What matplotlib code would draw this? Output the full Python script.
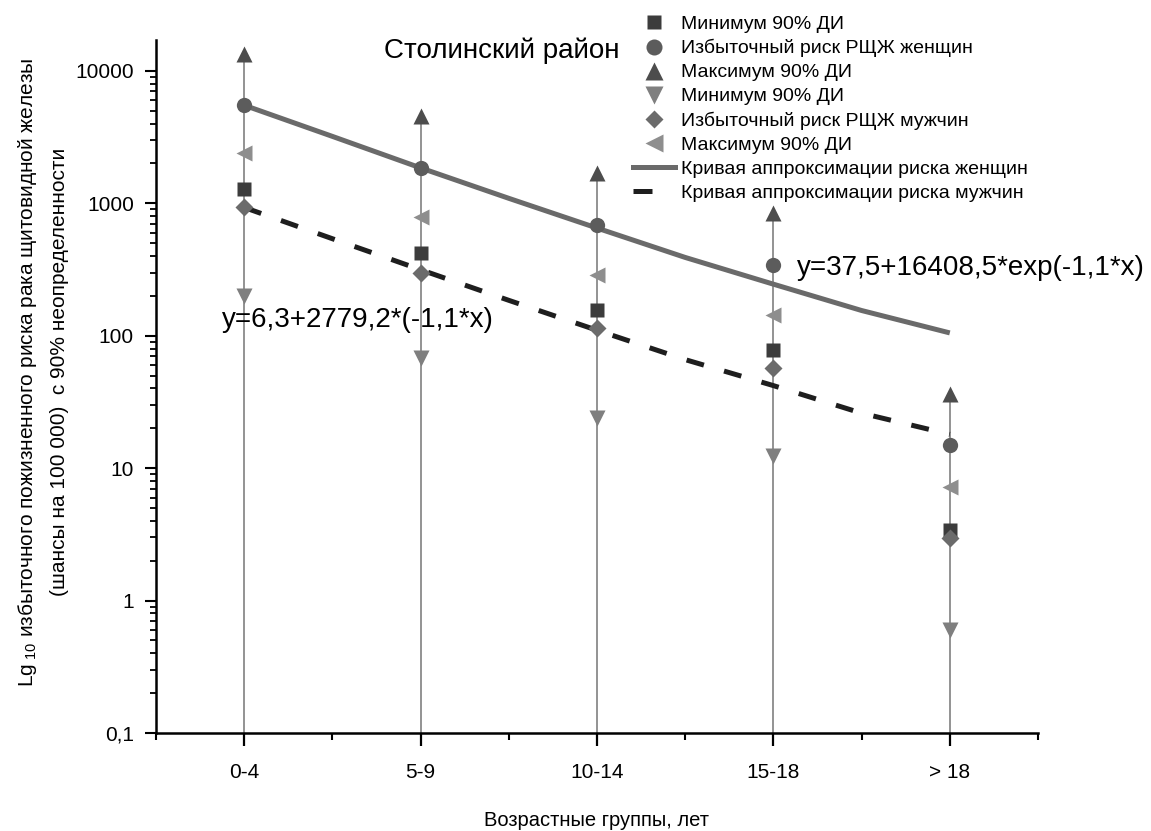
import matplotlib
matplotlib.use("Agg")
import matplotlib.pyplot as plt
from matplotlib.lines import Line2D
from matplotlib.ticker import FixedLocator, FixedFormatter, NullFormatter

plt.rcParams['font.family'] = ['Liberation Sans', 'DejaVu Sans']
plt.rcParams['mathtext.fontset'] = 'custom'
plt.rcParams['mathtext.rm'] = 'Liberation Sans'
plt.rcParams['mathtext.it'] = 'Liberation Sans'

# ---------------- data ----------------
categories = ['0-4', '5-9', '10-14', '15-18', '> 18']
f_min = [1280, 420, 157, 78, 3.4]
f_risk = [5500, 1850, 690, 340, 15]
f_max = [13500, 4600, 1700, 850, 36]
m_min = [200, 68, 24, 12.4, 0.6]
m_risk = [930, 300, 114, 57, 2.95]
m_max = [2400, 790, 288, 144, 7.2]

curve_x = [1, 1.5, 2, 2.5, 3, 3.5, 4, 4.5, 5]
f_curve = [5500, 3200, 1850, 1090, 650, 390, 245, 155, 105]
m_curve = [930, 540, 315, 185, 110, 66, 42, 26, 18]

ytick_vals = [0.1, 1, 10, 100, 1000, 10000]
ytick_labels = ['0,1', '1', '10', '100', '1000', '10000']

title = 'Столинский район'
eq_f = 'y=37,5+16408,5*exp(-1,1*x)'
eq_m = 'y=6,3+2779,2*(-1,1*x)'
xlabel = 'Возрастные группы, лет'
ylabel1 = r'$\mathrm{Lg}_{\ 10}$ избыточного пожизненного риска рака щитовидной железы'
ylabel2 = '(шансы на 100 000)  с 90% неопределенности'
legend_labels = ['Минимум 90% ДИ', 'Избыточный риск РЩЖ женщин', 'Максимум 90% ДИ',
                 'Минимум 90% ДИ', 'Избыточный риск РЩЖ мужчин', 'Максимум 90% ДИ',
                 'Кривая аппроксимации риска женщин', 'Кривая аппроксимации риска мужчин']

# ---------------- figure ----------------
W, H = 1151, 831
fig = plt.figure(figsize=(W / 100, H / 100), dpi=100)
ax = fig.add_axes([156 / W, 1 - 733 / H, (1038 - 156) / W, (733 - 40) / H])

x = list(range(1, len(categories) + 1))
ax.set_yscale('log')
ymin, ymax = 0.1, 17100
ax.set_ylim(ymin, ymax)
ax.set_xlim(0.5, len(categories) + 0.5)

ax.vlines(x, ymin, f_max, color='#8a8a8a', lw=1.3, zorder=1)

ax.plot(curve_x, f_curve, color='#6a6a6a', lw=3.6, zorder=2, solid_capstyle='butt')
ax.plot(curve_x, m_curve, color='#1e1e1e', lw=3.6, zorder=2, dashes=(3.6, 4.2))

mstyles = [
    dict(marker='s', color='#3c3c3c', ms=9.5),
    dict(marker='o', color='#5c5c5c', ms=11),
    dict(marker='^', color='#4d4d4d', ms=12),
    dict(marker='v', color='#7f7f7f', ms=12),
    dict(marker='D', color='#6b6b6b', ms=9),
    dict(marker='<', color='#8e8e8e', ms=12),
]
series = [f_min, f_risk, f_max, m_min, m_risk, m_max]
handles = []
for s, st in zip(series, mstyles):
    ax.plot(x, s, linestyle='none', marker=st['marker'], color=st['color'],
            ms=st['ms'], mec='none', zorder=3)
    handles.append(Line2D([], [], linestyle='none', marker=st['marker'],
                          color=st['color'], ms=st['ms'] * 1.05, mec='none'))
handles.append(Line2D([], [], color='#6a6a6a', lw=3.6))
handles.append(Line2D([], [], color='#1e1e1e', lw=3.6, dashes=(3.8, 8)))

# axes styling
for side in ['top', 'right']:
    ax.spines[side].set_visible(False)
for side in ['left', 'bottom']:
    ax.spines[side].set_linewidth(1.8)
    ax.spines[side].set_color('black')

ax.yaxis.set_major_locator(FixedLocator(ytick_vals))
ax.yaxis.set_major_formatter(FixedFormatter(ytick_labels))
ax.yaxis.set_minor_locator(FixedLocator(
    [m * 10.0 ** e for e in range(-1, 5) for m in range(2, 10) if m * 10.0 ** e < ymax]))
ax.yaxis.set_minor_formatter(NullFormatter())

ax.set_xticks(x)
ax.set_xticklabels(categories)
ax.set_xticks([v + 0.5 for v in range(0, len(categories) + 1)], minor=True)

ax.tick_params(axis='y', which='major', direction='out', length=8, width=1.5,
               labelsize=15, pad=8)
ax.tick_params(axis='y', which='minor', direction='out', length=4, width=1.3)
ax.tick_params(axis='x', which='major', direction='out', length=9.5, width=1.6,
               labelsize=15, pad=12)
ax.tick_params(axis='x', which='minor', direction='out', length=5, width=1.5)

# texts
fig.text(502 / W, 1 - 58 / H, title, ha='center', va='baseline', fontsize=20)
fig.text(797 / W, 1 - 275 / H, eq_f, ha='left', va='baseline', fontsize=20)
fig.text(222 / W, 1 - 327 / H, eq_m, ha='left', va='baseline', fontsize=20)
fig.text(597 / W, 1 - 820 / H, xlabel, ha='center', va='center', fontsize=14.5)
fig.text(28 / W, 1 - 372 / H, ylabel1, ha='center', va='center', rotation=90, fontsize=15)
fig.text(60 / W, 1 - 372 / H, ylabel2, ha='center', va='center', rotation=90, fontsize=15)

fig.legend(handles, legend_labels, loc='upper left',
           bbox_to_anchor=(633 / W, 1 - 15 / H), frameon=False, fontsize=14,
           borderpad=0, borderaxespad=0, handlelength=2.15, handletextpad=0.3,
           labelspacing=0.33)

fig.savefig('out.png', dpi=100)
